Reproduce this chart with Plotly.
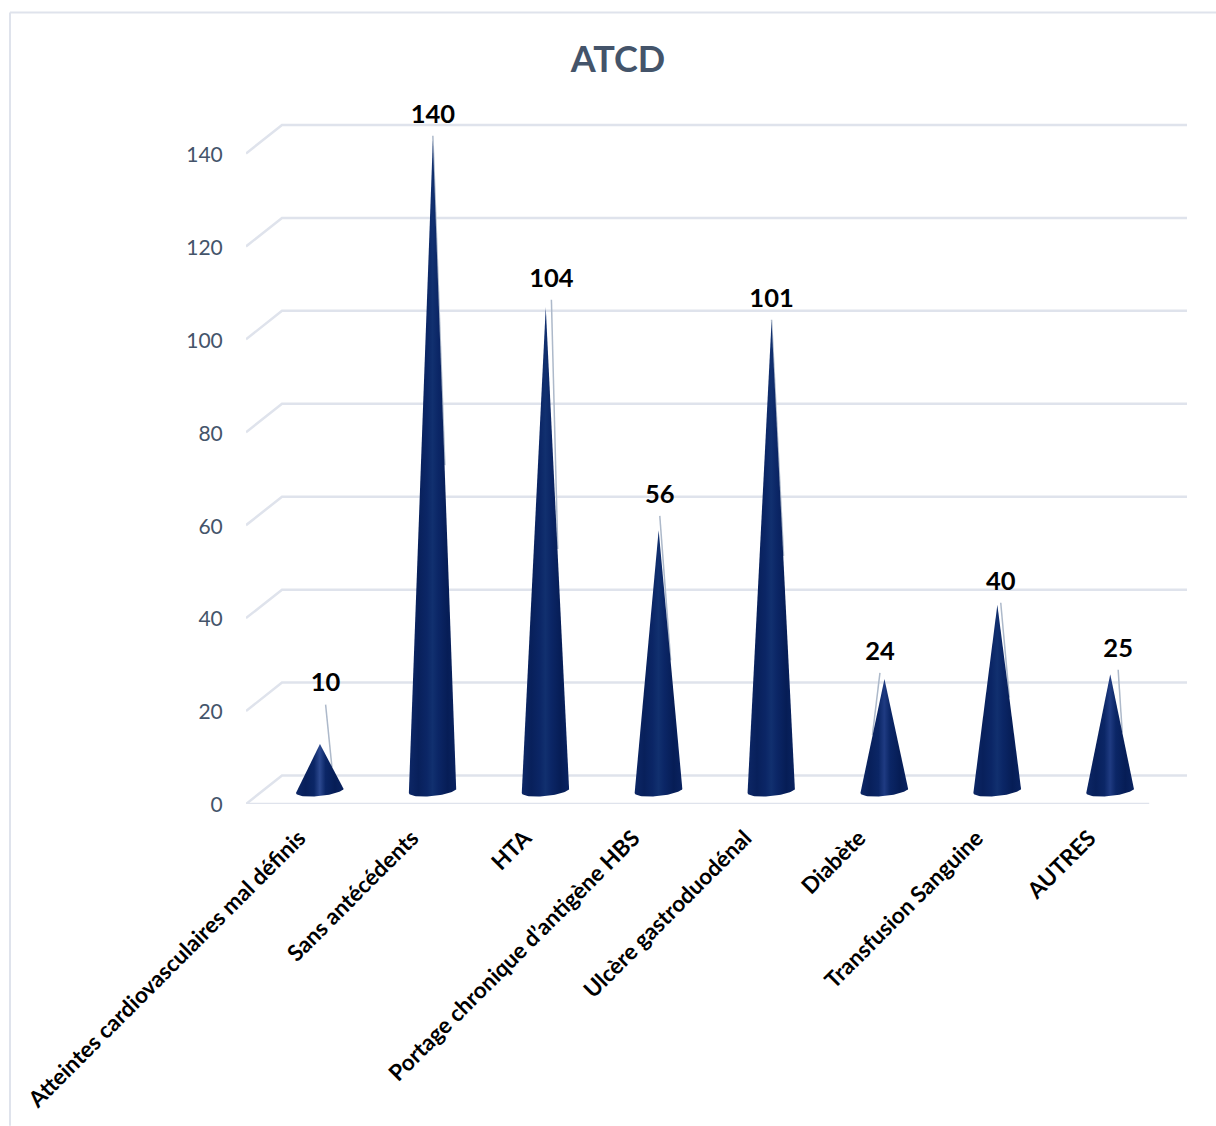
import plotly.graph_objects as go
import math

# Chart data
categories = [
    "Atteintes cardiovasculaires mal définis",
    "Sans antécédents",
    "HTA",
    "Portage chronique d’antigène HBS",
    "Ulcère gastroduodénal",
    "Diabète",
    "Transfusion Sanguine",
    "AUTRES",
]
values = [10, 140, 104, 56, 101, 24, 40, 25]
y_ticks = [0, 20, 40, 60, 80, 100, 120, 140]

# Label placement relative to each cone
label_dx = [0.05, 0.0, 0.05, 0.01, 0.0, -0.04, 0.03, 0.07]
label_lift = [15.6, 8.0, 8.7, 10.2, 7.4, 8.4, 7.5, 8.1]
leader_side = [1, 1, 1, 1, 1, -1, 1, 1]
tick_nudge = [0.0, 0.0, 0.0, -0.04, -0.05, -0.04, 0.0, 0.0]

# Page geometry in pixels
W, H = 1216, 1126
LEFT, RIGHT, ZERO_Y = 246, 1187, 804
PX_PER_CAT = 112.9
PX_PER_VAL = 4.65
Y_MAX = 150

# Depth of the pseudo 3D box, in data units
DEPTH_X = 36 / PX_PER_CAT
DEPTH_Y = 28.5 / PX_PER_VAL
CONE_DX = 0.5 + 17.5 / PX_PER_CAT
CONE_BASE = 2.9
HALF_W = 24 / PX_PER_CAT
ELL_B = 5.5 / PX_PER_VAL
ELL_TILT = 2.5 / PX_PER_VAL

GRID = "#DFE3EC"
TEXT = "#44546A"
LEADER = "#ADB9CA"
FONT = "Lato"


def cone_scale(value):
    # Short cones catch a brighter highlight down the middle
    centre = "#2C4990" if value <= 10 else "#1F3B82" if value <= 25 else "#11306F"
    return [
        [0.0, "#0D2766"],
        [0.2, "#08205B"],
        [0.38, "#0B2666"],
        [0.5, centre],
        [0.62, "#0B2666"],
        [0.82, "#061D56"],
        [1.0, "#0A2360"],
    ]


fig = go.Figure()


def line(xs, ys, color, width):
    fig.add_trace(go.Scatter(
        x=xs, y=ys, mode="lines", line=dict(color=color, width=width),
        hoverinfo="skip", showlegend=False, cliponaxis=False,
    ))


# Back wall and side wall gridlines, plus the front edge of the floor
for v in y_ticks:
    line([0, DEPTH_X, (RIGHT - LEFT) / PX_PER_CAT],
         [v, v + DEPTH_Y, v + DEPTH_Y], GRID, 2.5)
line([0, len(categories)], [0, 0], GRID, 2.5)

# Leader lines run behind the cones, from the label to mid height on the flank
for i, v in enumerate(values):
    cx = i + CONE_DX
    line([cx + label_dx[i], cx + leader_side[i] * HALF_W / 2],
         [v + label_lift[i] - 4.2, CONE_BASE + v / 2],
         LEADER, 1.5)

# Cones: apex followed by the front arc of the elliptical base
for i, v in enumerate(values):
    cx = i + CONE_DX
    xs, ys = [cx], [v + CONE_BASE]
    for k in range(41):
        t = math.pi * k / 40
        xs.append(cx + HALF_W * math.cos(t))
        ys.append(CONE_BASE + ELL_TILT * math.cos(t) - ELL_B * math.sin(t))
    xs.append(cx)
    ys.append(v + CONE_BASE)
    fig.add_trace(go.Scatter(
        x=xs, y=ys, mode="lines", line=dict(width=0, color="#0B2563"),
        fill="toself",
        fillgradient=dict(type="horizontal", colorscale=cone_scale(v)),
        hoverinfo="skip", showlegend=False, cliponaxis=False,
    ))

# Value labels
fig.add_trace(go.Scatter(
    x=[i + CONE_DX + label_dx[i] for i in range(len(values))],
    y=[v + label_lift[i] for i, v in enumerate(values)],
    mode="text",
    text=[str(v) for v in values],
    textposition="middle center",
    textfont=dict(family=FONT, size=25.5, color="#000000", weight="bold"),
    hoverinfo="skip", showlegend=False, cliponaxis=False,
))

# Outer frame, open on the right and at the bottom of the page
plot_w = RIGHT - LEFT
plot_h = Y_MAX * PX_PER_VAL
top = ZERO_Y - plot_h


def px(x):
    return (x - LEFT) / plot_w


def py(y):
    return (ZERO_Y - y) / plot_h


fig.add_shape(type="line", xref="paper", yref="paper", layer="below",
              x0=px(10), y0=py(H), x1=px(10), y1=py(12),
              line=dict(color=GRID, width=2))
fig.add_shape(type="line", xref="paper", yref="paper", layer="below",
              x0=px(10), y0=py(12), x1=px(W), y1=py(12),
              line=dict(color=GRID, width=2))

fig.update_layout(
    width=W, height=H, autosize=False,
    margin=dict(l=LEFT, r=W - RIGHT, t=top, b=H - ZERO_Y, pad=0,
                autoexpand=False),
    paper_bgcolor="#FFFFFF", plot_bgcolor="rgba(0,0,0,0)",
    showlegend=False,
    title=dict(
        text="ATCD", x=618 / W, xanchor="center", xref="container",
        y=1 - 59 / H, yanchor="middle", yref="container",
        automargin=False,
        font=dict(family=FONT, size=36, color=TEXT, weight="bold"),
    ),
    xaxis=dict(
        automargin=False,
        range=[0, plot_w / PX_PER_CAT], showgrid=False, zeroline=False,
        showline=False, tickmode="array",
        tickvals=[i + 0.47 + tick_nudge[i] for i in range(len(categories))],
        ticktext=categories, tickangle=-45,
        ticks="outside", ticklen=11, tickcolor="rgba(0,0,0,0)",
        tickfont=dict(family=FONT, size=22.5, color="#000000", weight="bold"),
    ),
    yaxis=dict(
        automargin=False,
        range=[0, Y_MAX], showgrid=False, zeroline=False, showline=False,
        tickmode="array", tickvals=y_ticks,
        ticks="outside", ticklen=18, tickcolor="rgba(0,0,0,0)",
        ticklabelshift=1,
        tickfont=dict(family=FONT, size=21, color=TEXT),
    ),
)

fig.write_html("out.html")
